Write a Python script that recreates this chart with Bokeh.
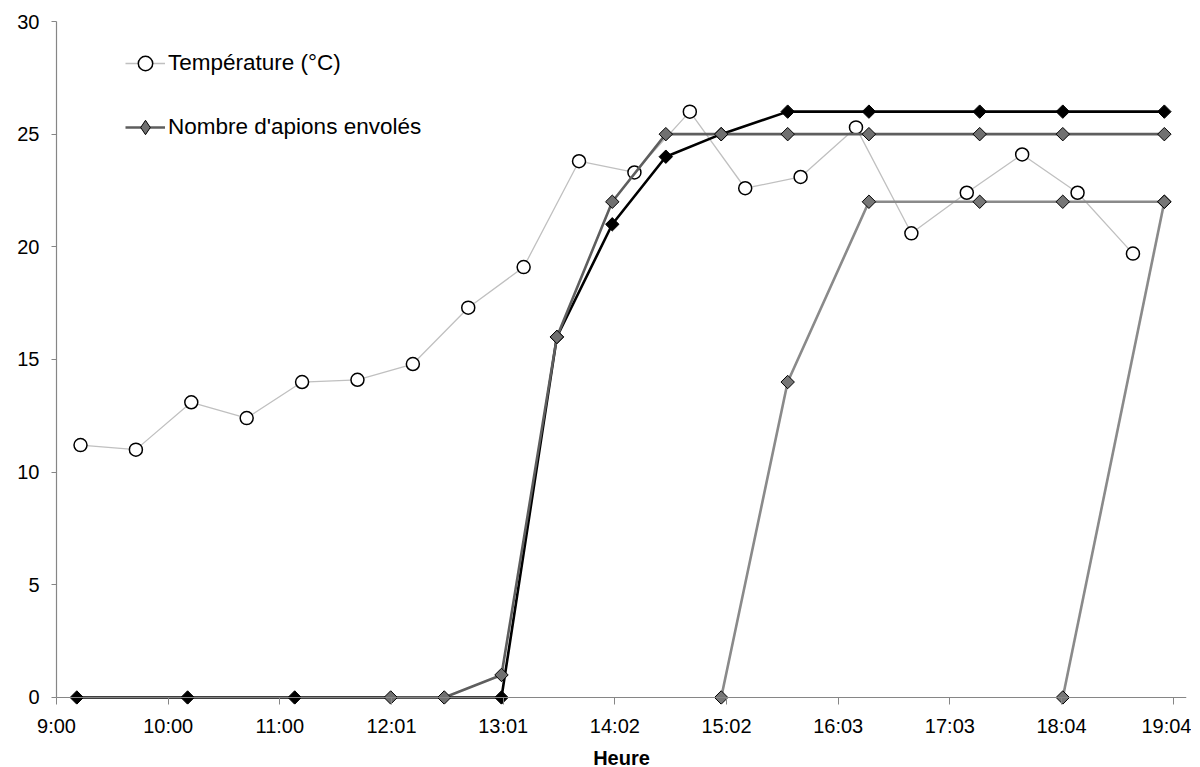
from bokeh.plotting import figure
from bokeh.models import Range1d, FixedTicker, Legend, LegendItem, Span
from bokeh.embed import file_html
from bokeh.resources import INLINE
import numpy as np

# ---------------- data ----------------
TICK_LABELS = ["9:00", "10:00", "11:00", "12:01", "13:01", "14:02",
               "15:02", "16:03", "17:03", "18:04", "19:04"]

temp_times = ["9:13", "9:43", "10:13", "10:43", "11:13", "11:43", "12:13", "12:43",
              "13:13", "13:43", "14:13", "14:43", "15:13", "15:43", "16:13", "16:43",
              "17:13", "17:43", "18:13", "18:43"]
temp_values = [11.2, 11.0, 13.1, 12.4, 14.0, 14.1, 14.8, 17.3, 19.1, 23.8,
               23.3, 26.0, 22.6, 23.1, 25.3, 20.6, 22.4, 24.1, 22.4, 19.7]

lot1_times = ["9:11", "10:11", "11:09", "13:01", "13:31", "14:01", "14:30", "15:00",
              "15:36", "16:20", "17:20", "18:05", "19:00"]
lot1_values = [0, 0, 0, 0, 16, 21, 24, 25, 26, 26, 26, 26, 26]

lot2_times = ["12:01", "12:30", "13:01", "13:31", "14:01", "14:30", "15:00",
              "15:36", "16:20", "17:20", "18:05", "19:00"]
lot2_values = [0, 0, 1, 16, 22, 25, 25, 25, 25, 25, 25, 25]

lot3_times = ["15:00", "15:36", "16:20", "17:20", "18:05", "19:00"]
lot3_values = [0, 14, 22, 22, 22, 22]

lot4_times = ["18:05", "19:00"]
lot4_values = [0, 22]


def to_min(s):
    h, m = s.split(":")
    return int(h) * 60 + int(m)


FONT = "Liberation Sans"
AXIS_COLOR = "#868686"
Y_PAD = -0.311  # small room under 0 so the markers at 0 are not clipped

p = figure(frame_width=1130, frame_height=683,
           x_range=Range1d(540, 1152), y_range=Range1d(Y_PAD, 30),
           output_backend="svg", toolbar_location=None,
           min_border_left=56, min_border_right=5, min_border_top=21,
           min_border_bottom=10)
p.outline_line_color = None
p.grid.visible = False
p.background_fill_color = "white"

# x axis line at y = 0
p.add_layout(Span(location=0, dimension="width", line_color=AXIS_COLOR, line_width=1.2))

# temperature
tx = [to_min(t) for t in temp_times]
tl = p.line(tx, temp_values, line_color="#C0C0C0", line_width=1.3)
ts = p.scatter(tx, temp_values, marker="circle", size=13, fill_color="white",
               line_color="black", line_width=1.5)

# lot 1 (black)
x1 = [to_min(t) for t in lot1_times]
p.line(x1, lot1_values, line_color="black", line_width=2.6)
p.scatter(x1, lot1_values, marker="square", angle=np.pi / 4, size=9.5,
          fill_color="black", line_color="black", line_width=1)

# lot 2 (dark grey)
x2 = [to_min(t) for t in lot2_times]
l2 = p.line(x2, lot2_values, line_color="#5E5E5E", line_width=2.6)
p.scatter(x2, lot2_values, marker="square", angle=np.pi / 4, size=9.5,
          fill_color="#707070", line_color="black", line_width=1)

# lot 3 (grey)
x3 = [to_min(t) for t in lot3_times]
p.line(x3, lot3_values, line_color="#8A8A8A", line_width=2.6)
p.scatter(x3, lot3_values, marker="square", angle=np.pi / 4, size=9.5,
          fill_color="#767676", line_color="black", line_width=1)

# lot 4 (grey)
x4 = [to_min(t) for t in lot4_times]
p.line(x4, lot4_values, line_color="#8A8A8A", line_width=2.6)
p.scatter(x4, lot4_values, marker="square", angle=np.pi / 4, size=9.5,
          fill_color="#767676", line_color="black", line_width=1)

# hidden renderer used only as the legend key for the diamond symbol
leg_diamond = p.scatter(x2, lot2_values, marker="diamond", fill_color="#707070",
                        line_color="black", line_width=1, visible=False)

# axes
tick_vals = [540 + 60.48 * i for i in range(len(TICK_LABELS))]
p.xaxis.ticker = FixedTicker(ticks=tick_vals)
p.xaxis.major_label_overrides = {v: lab for v, lab in zip(tick_vals, TICK_LABELS)}
p.yaxis.ticker = FixedTicker(ticks=[0, 5, 10, 15, 20, 25, 30])
p.yaxis.bounds = (0, 30)

for ax in (p.xaxis[0], p.yaxis[0]):
    ax.axis_line_color = AXIS_COLOR
    ax.axis_line_width = 1.2
    ax.major_tick_line_color = AXIS_COLOR
    ax.minor_tick_line_color = None
    ax.major_label_text_font = FONT
    ax.major_label_text_font_size = "20px"
    ax.major_label_text_color = "black"

p.yaxis.major_tick_in = 0
p.yaxis.major_tick_out = 5
p.xaxis.axis_line_color = None
p.xaxis.major_tick_in = 7
p.xaxis.major_tick_out = 0

p.xaxis.major_label_standoff = 10
p.yaxis.major_label_standoff = 12
p.xaxis.axis_label = "Heure"
p.xaxis.axis_label_text_font = FONT
p.xaxis.axis_label_text_font_style = "bold"
p.xaxis.axis_label_text_font_size = "20px"
p.xaxis.axis_label_text_color = "black"
p.xaxis.axis_label_standoff = 7

legend = Legend(items=[LegendItem(label="Température (°C)", renderers=[tl, ts]),
                       LegendItem(label="Nombre d'apions envolés", renderers=[l2, leg_diamond])],
                location=(69, 559), orientation="vertical",
                glyph_width=40, glyph_height=36, label_height=36, spacing=28,
                padding=0, margin=0, border_line_color=None,
                background_fill_alpha=0, label_standoff=3,
                label_text_font=FONT, label_text_font_size="22.5px",
                label_text_color="black")
p.add_layout(legend)

open("out.html", "w").write(file_html(p, INLINE))
